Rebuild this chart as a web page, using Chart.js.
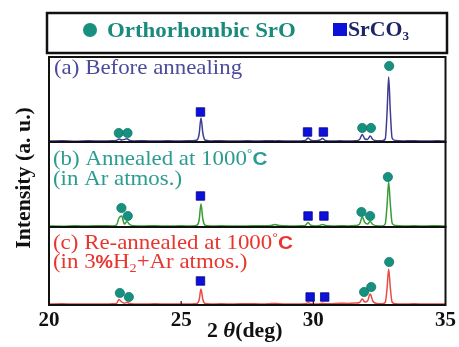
<!DOCTYPE html>
<html>
<head>
<meta charset="utf-8">
<script src="https://cdn.jsdelivr.net/npm/chart.js@4"></script>
<style>
  html, body { margin: 0; padding: 0; background: #fff; }
  canvas { display: block; }
</style>
</head>
<body>
<canvas id="xrd" width="459" height="347"></canvas>
<script>
// 2theta grid (deg), denser around the peaks
const twoTheta = [20.0, 20.5, 21.0, 21.5, 22.0, 22.4, 22.55, 22.65, 22.75, 22.85,
  22.95, 23.05, 23.2, 23.6, 24.0, 24.5, 25.0, 25.4, 25.6, 25.68,
  25.75, 25.82, 25.9, 26.1, 26.5, 27.0, 27.5, 28.0, 28.4, 28.55,
  28.7, 29.1, 29.5, 29.7, 29.8, 29.9, 30.1, 30.25, 30.35, 30.45,
  30.7, 31.0, 31.3, 31.6, 31.75, 31.85, 31.95, 32.05, 32.15, 32.25,
  32.4, 32.6, 32.72, 32.79, 32.85, 32.91, 32.98, 33.1, 33.4, 33.8,
  34.3, 34.7, 35.0];

// intensities (a.u.)
const intBefore = [1.0, 1.3, 0.8, 1.2, 1.0, 1.2, 1.5, 3.0, 2.0, 2.6,
  3.2, 1.6, 1.1, 1.3, 0.9, 1.2, 1.0, 1.3, 2.0, 8,
  24, 9, 2.0, 1.1, 1.3, 0.9, 1.2, 1.0, 1.3, 1.1,
  1.2, 0.9, 1.1, 1.5, 4.0, 1.8, 1.2, 2.0, 3.5, 1.6,
  1.0, 1.2, 1.0, 1.3, 2.5, 7.5, 3.0, 2.5, 6.0, 2.5,
  1.3, 1.2, 3, 30, 65, 32, 4, 1.5, 1.1, 1.3,
  0.9, 1.2, 1.0];
const intArAnneal = [1.0, 0.8, 1.2, 1.0, 1.3, 1.0, 1.8, 9, 11, 3,
  5.5, 2.5, 1.2, 1.0, 1.3, 0.9, 1.2, 1.0, 1.8, 7,
  23, 8, 1.8, 1.0, 1.2, 0.9, 1.1, 1.3, 1.5, 2.5,
  1.4, 1.0, 1.2, 1.6, 4.5, 1.8, 1.1, 1.6, 2.6, 1.5,
  1.0, 1.2, 1.1, 1.4, 3, 10, 4.5, 3, 5.5, 2.5,
  1.3, 1.1, 3, 22, 45, 24, 4, 1.4, 1.0, 1.2,
  1.0, 1.3, 1.0];
const intH2Anneal = [1.0, 1.2, 0.9, 1.1, 1.0, 1.2, 1.5, 5.5, 3, 1.8,
  2.5, 1.6, 1.1, 0.9, 1.2, 1.0, 1.1, 1.0, 1.5, 5,
  16, 5.5, 1.5, 1.0, 1.2, 1.0, 1.3, 1.1, 1.4, 1.6,
  1.2, 1.0, 1.1, 1.2, 2.2, 1.3, 1.1, 1.3, 1.8, 1.2,
  1.3, 1.8, 1.6, 1.9, 2.5, 6, 3, 4, 11, 4,
  1.5, 1.2, 2.5, 17, 36, 18, 3, 1.3, 1.0, 1.2,
  0.9, 1.1, 1.0];

// phase markers: [2theta, height] per panel
const sroBefore = [[22.64, 9], [22.97, 9], [31.85, 14], [32.18, 14], [32.87, 76]];
const co3Before = [[25.73, 30], [29.78, 10], [30.38, 10]];
const sroAr = [[22.74, 19], [22.98, 11], [31.82, 15], [32.15, 11], [32.82, 50]];
const co3Ar = [[25.73, 31], [29.8, 11], [30.4, 11]];
const sroH2 = [[22.68, 12], [23.02, 8], [31.92, 13], [32.19, 18], [32.87, 43]];
const co3H2 = [[25.73, 24], [29.88, 8], [30.43, 8]];

const xTicks = [20, 25, 30, 35];

const SERIF = '"Liberation Serif", "Times New Roman", serif';
const SANS = '"Liberation Sans", Arial, sans-serif';
const teal = '#17907f';
const blue = '#0c10d8';
const SX = 1.09; // text in the figure is a bit wide

function pts(xs, ys) { return xs.map((t, i) => ({ x: t, y: ys[i] })); }
function mk(arr) { return arr.map(p => ({ x: p[0], y: p[1] })); }

function trace(data, color, axis) {
  return { type: 'line', data: data, yAxisID: axis, borderColor: color, borderWidth: 1.5,
    pointRadius: 0, cubicInterpolationMode: 'monotone', order: 2 };
}
function markers(data, shape, axis) {
  return { type: 'scatter', data: data, yAxisID: axis, pointStyle: shape,
    pointRadius: shape === 'rect' ? 6 : 4.6,
    backgroundColor: shape === 'rect' ? blue : teal,
    borderColor: shape === 'rect' ? '#06088a' : '#0f7a6b',
    borderWidth: 0.8, order: 1 };
}

// draws a run of text pieces: [text, font, dy]
function parts(ctx, x, y, list, color) {
  ctx.fillStyle = color;
  list.forEach(p => {
    ctx.font = p[1];
    ctx.save();
    ctx.translate(x, y + (p[2] || 0));
    ctx.scale(SX, 1);
    ctx.fillText(p[0], 0, 0);
    ctx.restore();
    x += ctx.measureText(p[0]).width * SX;
  });
}

const decor = {
  id: 'decor',
  afterDraw(chart) {
    const ctx = chart.ctx;
    const a = chart.chartArea;
    ctx.save();
    ctx.textBaseline = 'alphabetic';
    ctx.textAlign = 'left';
    ctx.strokeStyle = '#111';
    ctx.lineWidth = 2;
    ['ya', 'yb', 'yc'].forEach(id => {
      const s = chart.scales[id];
      ctx.strokeRect(a.left, s.top, a.right - a.left, s.bottom - s.top);
    });
    // inward ticks on bottom axis
    const xs = chart.scales.x;
    ctx.lineWidth = 1.2;
    xTicks.slice(1, 3).forEach(v => {
      const px = xs.getPixelForValue(v);
      ctx.beginPath(); ctx.moveTo(px, a.bottom); ctx.lineTo(px, a.bottom - 4); ctx.stroke();
    });

    // legend box
    ctx.lineWidth = 2.5;
    ctx.strokeStyle = '#111';
    ctx.strokeRect(47, 13, 400, 40);
    ctx.fillStyle = teal;
    ctx.beginPath(); ctx.arc(90, 30, 7, 0, Math.PI * 2); ctx.fill();
    parts(ctx, 107, 37, [['Orthorhombic SrO', 'bold 21px ' + SERIF]], '#1a8a7e');
    ctx.fillStyle = blue;
    ctx.fillRect(333, 23, 14, 13);
    parts(ctx, 348, 36, [['SrCO', 'bold 20px ' + SERIF], ['3', 'bold 12px ' + SERIF, 4]], '#1c2466');

    // panel captions
    const f = '21px ' + SERIF;
    parts(ctx, 54, 74, [['(a) Before annealing', f]], '#4b4b9c');
    const cT = '#2a9c90';
    parts(ctx, 53, 165, [['(b) Annealed at 1000', f], ['\u00b0', '13px ' + SANS, -7], ['C', 'bold 19px ' + SANS]], cT);
    parts(ctx, 53, 185, [['(in Ar atmos.)', f]], cT);
    const cR = '#e8362e';
    parts(ctx, 53, 249, [['(c) Re-annealed at 1000', f], ['\u00b0', '13px ' + SANS, -7], ['C', 'bold 19px ' + SANS]], cR);
    parts(ctx, 53, 268, [['(in 3', f], ['%', 'bold 18px ' + SANS], ['H', f], ['2', '13px ' + SERIF, 4], ['+Ar atmos.)', f]], cR);

    // axis titles
    ctx.fillStyle = '#111';
    ctx.save();
    ctx.translate(30, 178);
    ctx.rotate(-Math.PI / 2);
    ctx.font = 'bold 20px ' + SERIF;
    const w = ctx.measureText('Intensity (a. u.)').width * SX;
    parts(ctx, -w / 2, 0, [['Intensity (a. u.)', 'bold 20px ' + SERIF]], '#111');
    ctx.restore();
    parts(ctx, 207, 337, [['2 ', 'bold 20px ' + SERIF], ['\u03b8', 'italic bold 21px ' + SERIF], ['(deg)', 'bold 20px ' + SERIF]], '#111');
    ctx.restore();
  }
};

const yAxis = (weight) => ({
  type: 'linear', position: 'left', stack: 'panels', stackWeight: weight,
  min: 0, max: weight, offset: false,
  ticks: { display: false }, grid: { display: false }, border: { display: false },
  afterFit: s => { s.width = 0; }
});

new Chart(document.getElementById('xrd'), {
  type: 'line',
  data: {
    datasets: [
      trace(pts(twoTheta, intBefore), '#3d3d94', 'ya'),
      trace(pts(twoTheta, intArAnneal), '#3a9a34', 'yb'),
      trace(pts(twoTheta, intH2Anneal), '#e84a44', 'yc'),
      markers(mk(sroBefore), 'circle', 'ya'),
      markers(mk(co3Before), 'rect', 'ya'),
      markers(mk(sroAr), 'circle', 'yb'),
      markers(mk(co3Ar), 'rect', 'yb'),
      markers(mk(sroH2), 'circle', 'yc'),
      markers(mk(co3H2), 'rect', 'yc')
    ]
  },
  options: {
    responsive: false,
    animation: false,
    devicePixelRatio: 1,
    layout: { padding: { left: 49, right: 12, top: 57, bottom: 0 } },
    plugins: { legend: { display: false }, tooltip: { enabled: false } },
    scales: {
      x: {
        type: 'linear', min: 20, max: 35,
        grid: { display: false, drawTicks: false }, border: { display: false },
        afterBuildTicks: s => { s.ticks = xTicks.map(v => ({ value: v })); },
        ticks: { color: '#111', font: { family: SERIF, size: 21, weight: 'bold' }, padding: 3 },
        afterFit: s => { s.height = 42; }
      },
      // stacked panels: first listed ends up at the bottom
      yc: yAxis(78),
      yb: yAxis(85),
      ya: yAxis(85)
    }
  },
  plugins: [decor]
});
</script>
</body>
</html>
